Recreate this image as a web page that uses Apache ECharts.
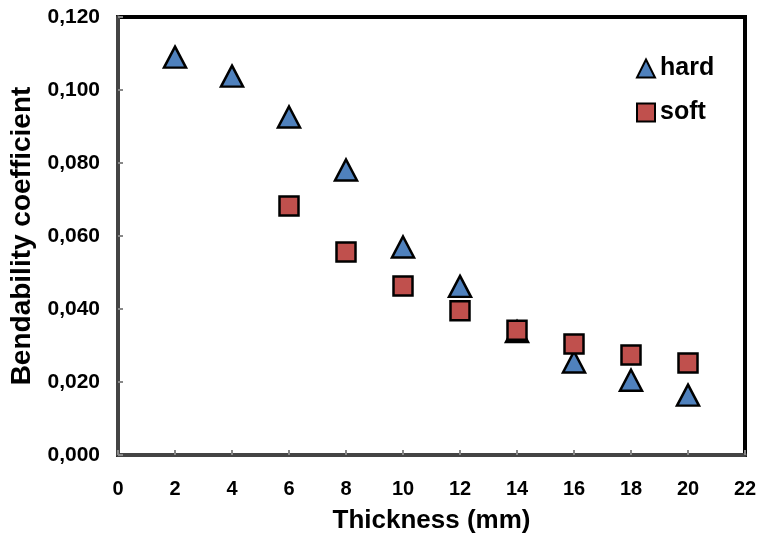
<!DOCTYPE html>
<html>
<head>
<meta charset="utf-8">
<script src="https://cdn.jsdelivr.net/npm/echarts@6/dist/echarts.min.js"></script>
<style>
  html, body { margin: 0; padding: 0; background: #fff; }
  #chart { width: 769px; height: 537px; }
</style>
</head>
<body>
<div id="chart"></div>
<script>
// values
const hardX = [2, 4, 6, 8, 10, 12, 14, 16, 18, 20];
const hardY = [0.109, 0.1038, 0.0926, 0.0781, 0.057, 0.0462, 0.0338, 0.0255, 0.0205, 0.0164];
const softX = [6, 8, 10, 12, 14, 16, 18, 20];
const softY = [0.0682, 0.0556, 0.0463, 0.0395, 0.0342, 0.0304, 0.0274, 0.0252];

const font = 'Liberation Sans, Arial, sans-serif';
const chart = echarts.init(document.getElementById('chart'));

const pairs = (xs, ys) => xs.map((x, i) => [x, ys[i]]);

chart.setOption({
  animation: false,
  grid: {
    left: 118, right: 24, top: 17, bottom: 82,
    outerBoundsMode: 'none',
    show: true,
    borderColor: '#000',
    borderWidth: 4
  },
  legend: {
    orient: 'vertical',
    left: 631,
    top: 51,
    itemWidth: 18,
    itemHeight: 18,
    itemGap: 19,
    textStyle: { fontFamily: font, fontSize: 25, fontWeight: 'bold', color: '#000' },
    data: ['hard', 'soft']
  },
  xAxis: {
    type: 'value',
    min: 0, max: 22, interval: 2,
    name: 'Thickness (mm)',
    nameLocation: 'middle',
    nameGap: 53,
    nameTextStyle: { fontFamily: font, fontSize: 26, fontWeight: 'bold', color: '#000' },
    splitLine: { show: false },
    axisLine: { lineStyle: { color: '#444', width: 4 } },
    axisTick: { inside: true, length: 5, lineStyle: { color: '#888', width: 2 } },
    axisLabel: { margin: 24, fontFamily: font, fontSize: 20, fontWeight: 'bold', color: '#000' }
  },
  yAxis: {
    type: 'value',
    min: 0, max: 0.12, interval: 0.02,
    name: 'Bendability coefficient',
    nameLocation: 'middle',
    nameGap: 73,
    nameTextStyle: { fontFamily: font, fontSize: 28, fontWeight: 'bold', color: '#000' },
    splitLine: { show: false },
    axisLine: { lineStyle: { color: '#444', width: 4 } },
    axisTick: { inside: true, length: 5, lineStyle: { color: '#888', width: 2 } },
    axisLabel: {
      margin: 18,
      fontFamily: font, fontSize: 21, fontWeight: 'bold', color: '#000',
      formatter: v => v.toFixed(3).replace('.', ',')
    }
  },
  series: [
    {
      name: 'hard',
      type: 'scatter',
      symbol: 'triangle',
      symbolSize: [22, 21],
      itemStyle: { color: '#4f81bd', opacity: 1, borderColor: '#000', borderWidth: 2.5 },
      data: pairs(hardX, hardY)
    },
    {
      name: 'soft',
      type: 'scatter',
      symbol: 'rect',
      symbolSize: 19,
      itemStyle: { color: '#c0504d', opacity: 1, borderColor: '#000', borderWidth: 2.5 },
      data: pairs(softX, softY)
    }
  ]
});
</script>
</body>
</html>
